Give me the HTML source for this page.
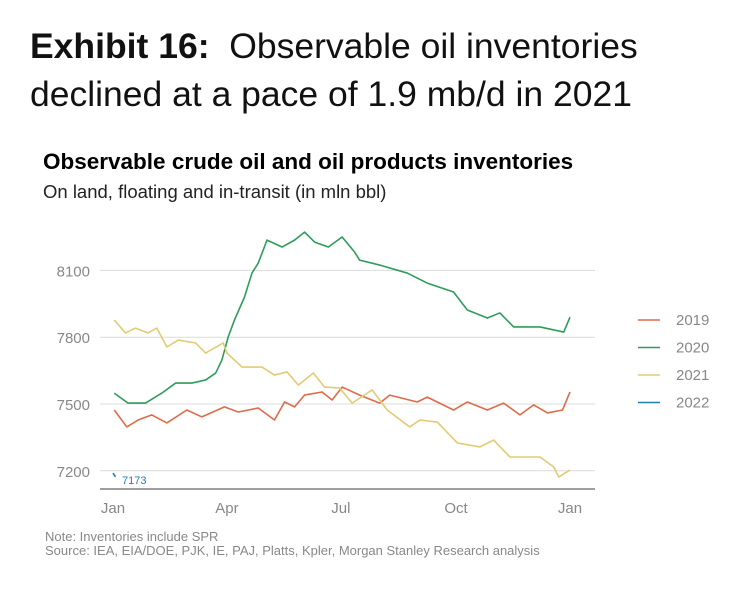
<!DOCTYPE html>
<html><head><meta charset="utf-8">
<style>
body{margin:0;background:#fff;width:745px;height:594px;overflow:hidden;font-family:"Liberation Sans",sans-serif}
.t{position:absolute;left:30px;font-size:35.5px;color:#111;white-space:nowrap}
</style></head>
<body>
<div class="t" style="top:26px"><b>Exhibit 16:</b>&nbsp; Observable oil inventories</div>
<div class="t" style="top:74px">declined at a pace of 1.9 mb/d in 2021</div>
<svg id="c" width="745" height="594" style="position:absolute;left:0;top:0">
<text x="43" y="169" font-size="22.5" font-weight="bold" fill="#000">Observable crude oil and oil products inventories</text>
<text x="43" y="198" font-size="18.5" fill="#222">On land, floating and in-transit (in mln bbl)</text>
<text x="45" y="541" font-size="13" fill="#888">Note: Inventories include SPR</text>
<text x="45" y="555" font-size="13" fill="#888">Source: IEA, EIA/DOE, PJK, IE, PAJ, Platts, Kpler, Morgan Stanley Research analysis</text>
<g id="g"></g>
</svg>
<script>
const yTicks=[7200,7500,7800,8100];
const xTickDays=[0,91,182,274,365];
const xTickLabels=["Jan","Apr","Jul","Oct","Jan"];
const seriesNames=["2019","2020","2021","2022"];
const days2019=[1,11,20,31,43,59,71,89,100,116,129,137,145,153,167,175,183,197,213,221,243,251,272,283,299,312,325,336,347,359,365];
const vals2019=[7473,7397,7428,7451,7415,7473,7442,7487,7464,7482,7428,7509,7487,7540,7554,7518,7576,7540,7504,7540,7509,7531,7473,7509,7473,7504,7451,7496,7460,7473,7554];
const days2020=[1,12,26,39,50,63,74,82,87,92,97,105,111,116,123,135,145,153,161,172,183,193,197,213,235,251,272,283,299,309,320,341,360,365];
const vals2020=[7549,7504,7504,7549,7594,7594,7608,7639,7698,7801,7877,7980,8088,8133,8236,8205,8236,8272,8227,8205,8250,8182,8146,8124,8088,8043,8003,7922,7886,7909,7846,7846,7823,7890];
const days2021=[1,10,18,28,35,43,52,66,74,88,91,103,119,129,139,148,160,169,181,191,207,219,237,245,259,275,293,304,317,333,341,352,356,365];
const vals2021=[7877,7819,7841,7819,7841,7756,7787,7774,7729,7774,7729,7666,7666,7630,7644,7585,7639,7576,7572,7504,7563,7473,7397,7428,7419,7325,7307,7338,7262,7262,7262,7217,7172,7204];
const days2022=[0,2];
const vals2022=[7190,7173];
const colors=["#de6b4a","#2e9c5c","#e2cb74","#1b7fb3"];
const X=d=>113+d*457/365, Y=v=>404-(v-7500)*66.8/300;
const ns="http://www.w3.org/2000/svg",g=document.getElementById('g');
function mk(t,a){const e=document.createElementNS(ns,t);for(const k in a)e.setAttribute(k,a[k]);g.appendChild(e);return e;}
yTicks.forEach(v=>{
 const l=mk('line',{x1:100,x2:595,y1:Y(v),y2:Y(v),stroke:'#dcdcdc','stroke-width':1});
 
 
 const t=mk('text',{x:90,y:Y(v)+6,'text-anchor':'end','font-size':15,fill:'#888'});t.textContent=v;
 
 
});
const ax=mk('line',{x1:100,x2:595,y1:489,y2:489,stroke:'#666','stroke-width':1.3});


xTickDays.forEach((d,i)=>{
 const t=mk('text',{x:X(d),y:513,'text-anchor':'middle','font-size':15,fill:'#888'});t.textContent=xTickLabels[i];
 
 
});
[[days2019,vals2019],[days2020,vals2020],[days2021,vals2021],[days2022,vals2022]].forEach((s,i)=>{
 const p=mk('polyline',{points:s[0].map((d,j)=>X(d)+','+Y(s[1][j])).join(' '),fill:'none',stroke:colors[i],'stroke-width':1.6,'stroke-linejoin':'round'});
 
 
 const ly=320+i*27.5;
 const ll=mk('line',{x1:638,x2:660,y1:ly,y2:ly,stroke:colors[i],'stroke-width':1.6});
 
 
 const lt=mk('text',{x:676,y:ly+5,'font-size':15,fill:'#888'});lt.textContent=seriesNames[i];
 
 
});
const last=vals2022[vals2022.length-1];
const lb=mk('text',{x:122,y:Y(last)+7,'font-size':11,fill:colors[3]});lb.textContent=last;


</script>
</body></html>
